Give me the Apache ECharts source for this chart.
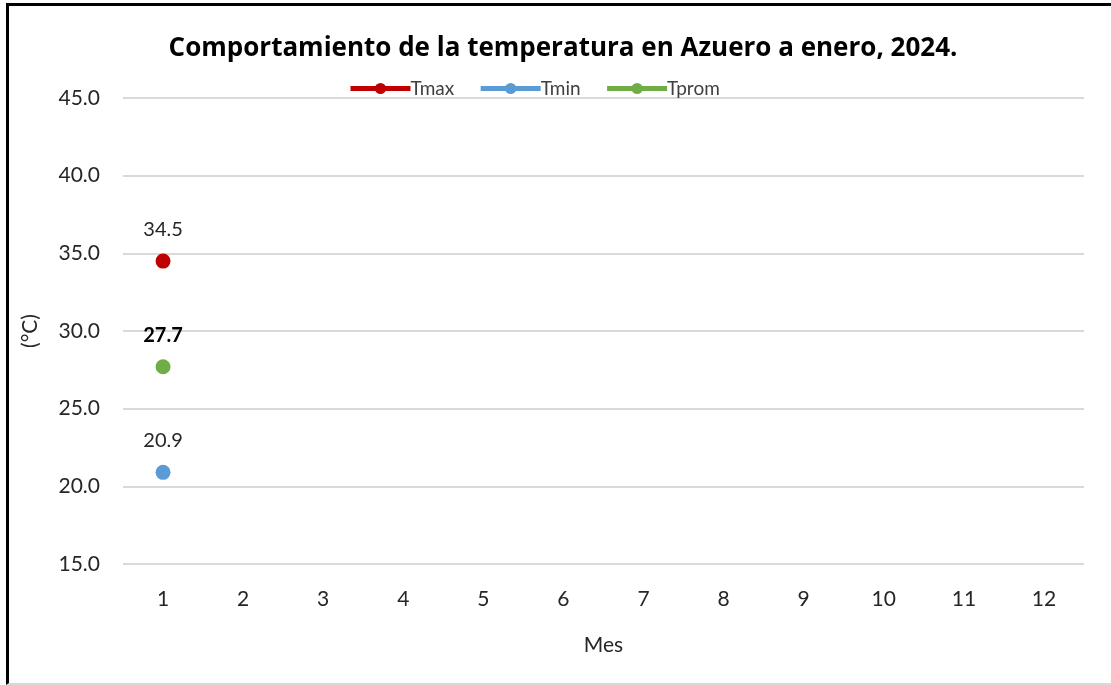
<!DOCTYPE html>
<html>
<head>
<meta charset="utf-8">
<script src="https://cdn.jsdelivr.net/npm/echarts@6/dist/echarts.min.js"></script>
<style>
  html, body { margin: 0; padding: 0; background: #fff; }
  #chart { position: absolute; left: 0; top: 0; width: 1111px; height: 685px; }
  #frame {
    position: absolute; left: 6px; top: 3px; width: 1120px; height: 677px;
    border-left: 3px solid #000; border-top: 3px solid #000;
    border-bottom: 2px solid #d9d9d9; pointer-events: none;
  }
</style>
</head>
<body>
<div id="chart"></div>
<div id="frame"></div>
<script>
  const months = ["1", "2", "3", "4", "5", "6", "7", "8", "9", "10", "11", "12"];
  const tmax = [34.5, null, null, null, null, null, null, null, null, null, null, null];
  const tmin = [20.9, null, null, null, null, null, null, null, null, null, null, null];
  const tprom = [27.7, null, null, null, null, null, null, null, null, null, null, null];

  const font = "Lato";
  const chart = echarts.init(document.getElementById("chart"));

  const mkSeries = (name, data, color, bold) => ({
    name: name,
    type: "line",
    data: data,
    symbol: "circle",
    symbolSize: 15,
    connectNulls: false,
    itemStyle: { color: color },
    lineStyle: { color: color, width: 5 },
    label: {
      show: true,
      position: "top",
      distance: 14,
      color: bold ? "#000" : "#262626",
      fontWeight: bold ? "bold" : "normal",
      fontFamily: font,
      fontSize: 20,
      formatter: (p) => p.value.toFixed(1)
    }
  });

  chart.setOption({
    animation: false,
    title: {
      text: "Comportamiento de la temperatura en Azuero a enero, 2024.",
      left: 558,
      top: 31,
      textAlign: "center",
      textStyle: { fontFamily: "Open Sans", fontSize: 26, fontWeight: "bold", color: "#000" }
    },
    legend: {
      left: 348,
      top: 79,
      padding: 0,
      itemWidth: 60,
      itemHeight: 14,
      itemGap: 24,
      lineStyle: { width: 5 },
      textStyle: { fontFamily: font, fontSize: 19, color: "#404040", padding: [0, 0, 0, -5] },
      data: ["Tmax", "Tmin", "Tprom"]
    },
    grid: { left: 123, right: 27, top: 98, bottom: 121, containLabel: false },
    xAxis: {
      type: "category",
      data: months,
      boundaryGap: true,
      name: "Mes",
      nameLocation: "middle",
      nameGap: 71,
      nameTextStyle: { fontFamily: font, fontSize: 21, color: "#262626" },
      axisLine: { show: false },
      axisTick: { show: false },
      axisLabel: { fontFamily: font, fontSize: 21, color: "#262626", margin: 25 }
    },
    yAxis: {
      type: "value",
      min: 15,
      max: 45,
      interval: 5,
      name: "(°C)",
      nameLocation: "middle",
      nameGap: 82,
      nameTextStyle: { fontFamily: font, fontSize: 21, color: "#262626" },
      axisLine: { show: false },
      axisTick: { show: false },
      axisLabel: {
        fontFamily: font,
        fontSize: 21,
        color: "#262626",
        margin: 23,
        formatter: (v) => v.toFixed(1)
      },
      splitLine: { lineStyle: { color: "#d9d9d9", width: 2 } }
    },
    series: [
      mkSeries("Tmax", tmax, "#C00000", false),
      mkSeries("Tmin", tmin, "#5B9BD5", false),
      mkSeries("Tprom", tprom, "#70AD47", true)
    ]
  });
</script>
</body>
</html>
